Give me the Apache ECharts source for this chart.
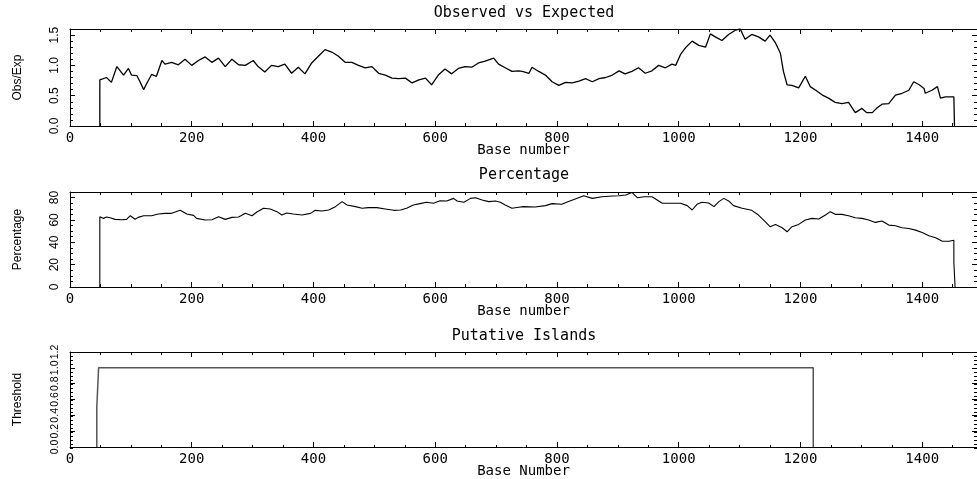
<!DOCTYPE html>
<html>
<head>
<meta charset="utf-8">
<script src="https://cdn.jsdelivr.net/npm/echarts@6/dist/echarts.min.js"></script>
<style>
  html, body { margin: 0; padding: 0; background: #fff; }
  #main { width: 977px; height: 479px; }
</style>
</head>
<body>
<div id="main"></div>
<script>
// observed / expected CpG ratio
const obsExpPos = [49, 49, 60, 68, 77, 80, 88, 96, 101, 110, 115, 121, 126, 134, 142, 151, 156, 167, 178, 189,
  200, 211, 222, 233, 244, 255, 266, 277, 288, 301, 309, 320, 331, 342, 353, 364, 375, 386, 397, 408,
  419, 430, 441, 452, 463, 474, 485, 496, 507, 518, 529, 540, 551, 562, 573, 584, 594, 605, 616, 627,
  638, 649, 660, 671, 682, 696, 704, 715, 726, 737, 743, 754, 759, 770, 781, 792, 803, 814, 825, 836,
  847, 858, 869, 880, 891, 902, 912, 923, 934, 945, 956, 967, 978, 989, 995, 1003, 1011, 1022, 1033, 1044,
  1052, 1060, 1071, 1082, 1093, 1101, 1109, 1120, 1131, 1142, 1150, 1159, 1167, 1172, 1178, 1186, 1197, 1208, 1216, 1225,
  1236, 1246, 1257, 1268, 1279, 1290, 1301, 1309, 1318, 1326, 1334, 1345, 1356, 1367, 1378, 1386, 1395, 1403, 1405, 1416,
  1425, 1430, 1438, 1452, 1453]
const obsExpVal = [0, 0.76, 0.8, 0.72, 0.98, 1.0, 0.84, 0.95, 0.84, 0.83, 0.73, 0.6, 0.7, 0.85, 0.82, 1.08, 1.02, 1.05, 1.01, 1.1,
  1.0, 1.08, 1.14, 1.05, 1.12, 0.98, 1.1, 1.01, 1.0, 1.08, 0.98, 0.89, 1.0, 0.98, 1.02, 0.87, 0.97, 0.86, 1.04, 1.15,
  1.26, 1.22, 1.15, 1.05, 1.05, 1.0, 0.96, 0.98, 0.87, 0.84, 0.79, 0.78, 0.79, 0.71, 0.76, 0.79, 0.68, 0.84, 0.94, 0.86,
  0.95, 0.98, 0.97, 1.04, 1.07, 1.12, 1.02, 0.96, 0.9, 0.91, 0.9, 0.87, 0.97, 0.9, 0.84, 0.73, 0.67, 0.72, 0.71, 0.74,
  0.78, 0.73, 0.78, 0.8, 0.84, 0.91, 0.86, 0.9, 0.96, 0.87, 0.91, 1.0, 0.96, 1.02, 1.0, 1.18, 1.29, 1.4, 1.33, 1.3,
  1.52, 1.47, 1.41, 1.51, 1.58, 1.6, 1.43, 1.51, 1.47, 1.4, 1.5, 1.37, 1.2, 0.9, 0.68, 0.67, 0.63, 0.82, 0.65, 0.59,
  0.51, 0.46, 0.39, 0.37, 0.39, 0.22, 0.29, 0.22, 0.22, 0.3, 0.36, 0.37, 0.51, 0.54, 0.59, 0.73, 0.68, 0.62, 0.54, 0.59,
  0.65, 0.46, 0.48, 0.48, 0]

// percentage (middle panel)
const pctPos = [49, 49, 55, 60, 66, 74, 85, 93, 99, 107, 112, 121, 134, 145, 156, 167, 181, 192, 203, 208,
  222, 233, 244, 255, 266, 277, 288, 299, 307, 318, 329, 340, 348, 356, 367, 381, 395, 403, 414, 425,
  436, 447, 455, 469, 480, 490, 504, 518, 532, 543, 553, 564, 575, 586, 597, 608, 619, 630, 636, 647,
  658, 666, 677, 688, 699, 707, 715, 726, 737, 745, 764, 781, 792, 808, 819, 830, 844, 858, 874, 891,
  902, 913, 923, 932, 943, 956, 962, 973, 989, 1003, 1014, 1022, 1030, 1038, 1049, 1058, 1066, 1074, 1082, 1090,
  1104, 1120, 1131, 1142, 1150, 1159, 1170, 1178, 1186, 1197, 1208, 1219, 1230, 1241, 1249, 1257, 1268, 1279, 1290, 1301,
  1312, 1323, 1334, 1345, 1356, 1367, 1378, 1389, 1400, 1411, 1422, 1433, 1444, 1452, 1452, 1454, 1454]
const pctVal = [0, 62.9, 61.4, 62.6, 62.0, 60.5, 60.2, 60.5, 63.8, 60.6, 62.3, 63.8, 63.8, 65.3, 65.9, 65.9, 68.6, 65.3, 64.1, 61.4,
  59.9, 60.2, 62.9, 60.5, 62.3, 62.6, 65.9, 63.8, 67.1, 70.4, 69.8, 67.4, 64.4, 66.2, 65.3, 64.4, 65.9, 68.6, 68.0, 68.9,
  71.9, 76.4, 73.4, 71.9, 70.4, 71.0, 71.0, 69.8, 68.6, 68.9, 70.4, 73.4, 74.6, 75.8, 74.9, 77.2, 76.9, 79.3, 77.0, 75.8,
  79.3, 79.9, 77.8, 76.4, 77.0, 75.8, 73.4, 70.4, 71.3, 71.9, 71.6, 72.8, 74.6, 74.0, 76.4, 78.8, 81.7, 79.3, 80.8, 81.4,
  81.7, 82.3, 84.6, 79.9, 80.8, 80.8, 78.8, 74.9, 74.9, 74.9, 72.8, 68.9, 74.0, 75.8, 75.2, 71.9, 76.4, 79.3, 77.0, 72.8,
  70.4, 68.6, 64.4, 58.4, 54.0, 56.0, 53.0, 49.4, 54.0, 56.0, 59.9, 61.4, 60.8, 64.4, 67.4, 65.0, 65.0, 63.8, 62.0, 61.4,
  59.9, 57.8, 59.0, 55.4, 54.8, 53.0, 52.4, 50.9, 48.8, 45.8, 44.0, 41.0, 41.0, 41.9, 22, 22, 0]

// putative island threshold (bottom panel)
const islandPos = [44, 44, 47, 47, 1221, 1221]
const islandVal = [0, 0.5, 0.5, 1.0, 1.0, 0]

// layout of the three panels
const xMax = 1490
const panelTops = [29, 192, 352]
const panelHeights = [97, 95, 96]
const panelTitles = ['Observed vs Expected', 'Percentage', 'Putative Islands']
const titleY = [13, 175, 336]
const xNames = ['Base number', 'Base number', 'Base Number']
const yNames = ['Obs/Exp', 'Percentage', 'Threshold']
const yMaxes = [1.6, 85, 1.2]
const yMajor = [0.5, 20, 0.2]
const yMinor = [0.1, 5, 0.05]
const yDigits = [1, 0, 1]
const yLabelSize = [12, 12, 10.5]

const monoFont = 'DejaVu Sans Mono'
const sansFont = 'Liberation Sans'
const ink = '#000'

function zip(xs, ys) {
  return xs.map((x, i) => [x, ys[i]])
}

const grids = []
const xAxes = []
const yAxes = []

panelTops.forEach((top, p) => {
  const rect = { left: 70, width: 908, top: top, height: panelHeights[p] }
  grids.push({ ...rect }, { ...rect })
  const major = 2 * p
  const minor = 2 * p + 1

  const xBase = {
    type: 'value',
    min: 0,
    max: xMax,
    splitLine: { show: false }
  }
  // bottom, labelled
  xAxes.push({
    ...xBase,
    gridIndex: major,
    position: 'bottom',
    interval: 200,
    axisLine: { onZero: false, lineStyle: { color: ink, width: 1 } },
    axisTick: { inside: true, length: 5, lineStyle: { color: ink } },
    axisLabel: {
      margin: 5,
      showMaxLabel: false,
      hideOverlap: false,
      color: ink,
      fontFamily: monoFont,
      fontSize: 14,
      formatter: v => String(v)
    },
    name: xNames[p],
    nameLocation: 'middle',
    nameGap: 17,
    nameMoveOverlap: false,
    nameTextStyle: { color: ink, fontFamily: monoFont, fontSize: 14 }
  })
  // top mirror
  xAxes.push({
    ...xBase,
    gridIndex: major,
    position: 'top',
    interval: 200,
    axisLine: { onZero: false, lineStyle: { color: ink, width: 1 } },
    axisTick: { inside: true, length: 5, lineStyle: { color: ink } },
    axisLabel: { show: false }
  })
  // minor ticks
  ;['bottom', 'top'].forEach(pos => {
    xAxes.push({
      ...xBase,
      gridIndex: minor,
      position: pos,
      interval: 50,
      axisLine: { show: false, onZero: false },
      axisTick: { inside: true, length: 3, lineStyle: { color: ink } },
      axisLabel: { show: false }
    })
  })

  const yBase = {
    type: 'value',
    min: 0,
    max: yMaxes[p],
    splitLine: { show: false }
  }
  yAxes.push({
    ...yBase,
    gridIndex: major,
    position: 'left',
    interval: yMajor[p],
    axisLine: { show: true, onZero: false, lineStyle: { color: ink, width: 1 } },
    axisTick: { show: true, inside: true, length: 5, lineStyle: { color: ink } },
    axisLabel: {
      rotate: 90,
      margin: 9,
      showMinLabel: true,
      showMaxLabel: p === 2,
      hideOverlap: false,
      color: ink,
      fontFamily: sansFont,
      fontSize: yLabelSize[p],
      formatter: v => v.toFixed(yDigits[p])
    },
    name: yNames[p],
    nameLocation: 'middle',
    nameRotate: 90,
    nameGap: 46,
    nameMoveOverlap: false,
    nameTextStyle: { color: ink, fontFamily: sansFont, fontSize: 12 }
  })
  yAxes.push({
    ...yBase,
    gridIndex: major,
    position: 'right',
    interval: yMajor[p],
    axisLine: { show: true, onZero: false, lineStyle: { color: ink, width: 1 } },
    axisTick: { show: true, inside: true, length: 5, lineStyle: { color: ink } },
    axisLabel: { show: false }
  })
  ;['left', 'right'].forEach(pos => {
    yAxes.push({
      ...yBase,
      gridIndex: minor,
      position: pos,
      interval: yMinor[p],
      axisLine: { show: false, onZero: false },
      axisTick: { show: true, inside: true, length: 3, lineStyle: { color: ink } },
      axisLabel: { show: false }
    })
  })
})

const chart = echarts.init(document.getElementById('main'), null, { renderer: 'canvas' })

chart.setOption({
  animation: false,
  backgroundColor: '#fff',
  grid: grids,
  xAxis: xAxes,
  yAxis: yAxes,
  graphic: panelTitles.map((t, i) => ({
    type: 'text',
    x: 524,
    y: titleY[i],
    style: {
      text: t,
      font: '15px "' + monoFont + '"',
      fill: ink,
      textAlign: 'center',
      textVerticalAlign: 'middle'
    }
  })),
  series: [
    {
      type: 'line',
      xAxisIndex: 0,
      yAxisIndex: 0,
      data: zip(obsExpPos, obsExpVal),
      showSymbol: false,
      lineStyle: { color: ink, width: 1.3 }
    },
    {
      type: 'line',
      xAxisIndex: 4,
      yAxisIndex: 4,
      data: zip(pctPos, pctVal),
      showSymbol: false,
      lineStyle: { color: ink, width: 1.1 }
    },
    {
      type: 'line',
      xAxisIndex: 8,
      yAxisIndex: 8,
      data: zip(islandPos, islandVal),
      showSymbol: false,
      lineStyle: { color: '#555', width: 1.5 }
    }
  ]
})
</script>
</body>
</html>
